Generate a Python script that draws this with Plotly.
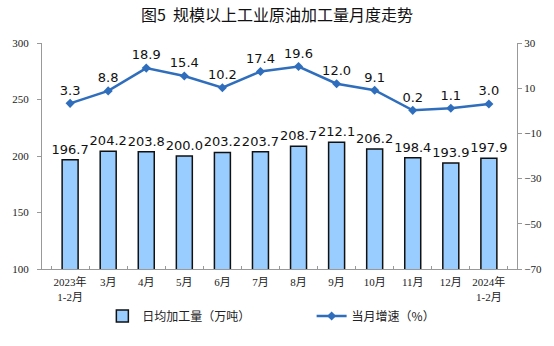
import plotly.graph_objects as go

categories = ["2023年<br>1-2月", "3月", "4月", "5月", "6月", "7月", "8月", "9月", "10月", "11月", "12月", "2024年<br>1-2月"]
daily_output = [196.7, 204.2, 203.8, 200.0, 203.2, 203.7, 208.7, 212.1, 206.2, 198.4, 193.9, 197.9]
growth = [3.3, 8.8, 18.9, 15.4, 10.2, 17.4, 19.6, 12.0, 9.1, 0.2, 1.1, 3.0]
bar_labels = [f"{v:.1f}" for v in daily_output]
line_labels = [f"{v:.1f}" for v in growth]

fig = go.Figure()
fig.add_trace(go.Bar(
    x=categories, y=daily_output, name="日均加工量（万吨）",
    marker=dict(color="#99CCFF", line=dict(color="#111111", width=1.5)),
    width=0.42, text=bar_labels, textposition="outside", cliponaxis=False,
    constraintext="none", legend="legend",
    textfont=dict(family="DejaVu Sans", size=13, color="#111"),
))
fig.add_trace(go.Scatter(
    x=categories, y=growth, name="当月增速（%）", yaxis="y2", legend="legend2",
    mode="lines+markers+text", text=line_labels, textposition="top center",
    line=dict(color="#2F6EBD", width=2.5),
    marker=dict(symbol="diamond", size=7, color="#2F6EBD"),
    textfont=dict(family="DejaVu Sans", size=13, color="#111"), cliponaxis=False,
))

leg_font = dict(family="Noto Sans CJK SC", size=12, color="#222")
fig.update_layout(
    width=554, height=346,
    margin=dict(l=34, r=32, t=43, b=77),
    paper_bgcolor="white", plot_bgcolor="white",
    title=dict(text="图5\u00a0\u00a0规模以上工业原油加工量月度走势", x=0.5, xanchor="center",
               y=1 - 15 / 346, yanchor="middle",
               font=dict(family="Noto Sans CJK SC", size=16, color="#111")),
    showlegend=True,
    legend=dict(orientation="h", x=(96 - 34) / 488, xanchor="left", y=-0.208, yanchor="middle",
                font=leg_font, itemwidth=30),
    legend2=dict(orientation="h", x=(311 - 34) / 488, xanchor="left", y=-0.208, yanchor="middle",
                 font=leg_font, itemwidth=30),
    bargap=0.5,
    xaxis=dict(type="category", showline=True, linecolor="#999", linewidth=1,
               ticks="inside", ticklen=3, tickcolor="#999", tickson="boundaries",
               tickangle=0, ticklabelstandoff=3,
               tickfont=dict(family="Liberation Serif, Noto Sans CJK SC", size=11, color="#222"),
               showgrid=False),
    yaxis=dict(range=[100, 300], dtick=50, showline=True, linecolor="#999", linewidth=1,
               ticks="outside", ticklen=4, tickcolor="#999", showgrid=False, zeroline=False,
               ticklabelstandoff=6,
               tickfont=dict(family="Liberation Serif", size=11, color="#222")),
    yaxis2=dict(range=[-70, 30], dtick=20, tick0=-70, overlaying="y", side="right",
                showline=True, linecolor="#999", linewidth=1,
                ticks="outside", ticklen=4, tickcolor="#999", showgrid=False, zeroline=False,
                tickfont=dict(family="Liberation Serif", size=11, color="#222")),
)

fig.write_html("out.html")
